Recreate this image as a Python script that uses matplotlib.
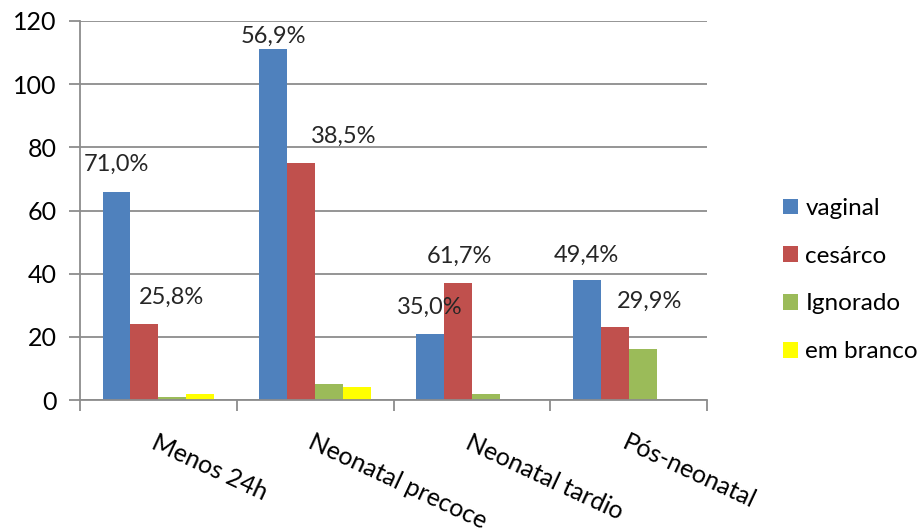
import numpy as np
import matplotlib
matplotlib.use('Agg')
import matplotlib.pyplot as plt
from matplotlib.patches import Patch

plt.rcParams['font.family'] = ['Lato', 'DejaVu Sans']

# deaths by age group and type of delivery
categories = ['Menos 24h', 'Neonatal precoce', 'Neonatal tardio', 'Pós-neonatal']
series = ['vaginal', 'cesárco', 'Ignorado', 'em branco']
vaginal = [66, 111, 21, 38]
cesareo = [24, 75, 37, 23]
ignorado = [1, 5, 2, 16]
em_branco = [2, 4, 0, 0]
colors = ['#4F81BD', '#C0504D', '#9BBB59', '#FFFF00']
yticks = [0, 20, 40, 60, 80, 100, 120]

values = [vaginal, cesareo, ignorado, em_branco]
totals = np.sum(values, axis=0)

# percent labels sit above the vaginal and cesarean bars (pixel offsets)
label_dx = [[0, 27], [0, 42], [0, 2], [0, 35]]
label_dy = [[27, 27], [13, 27], [26, 27], [25, 26]]

fig = plt.figure(figsize=(9.22, 5.32), dpi=100)
ax = fig.add_axes([80/922, 1 - 400/532, 627/922, 379/532])

x = np.arange(len(categories))
w = 0.178
for j, vals in enumerate(values):
    ax.bar(x + (j - 1.5) * w, vals, width=w, color=colors[j], zorder=3)

for i in range(len(categories)):
    for j in range(2):
        v = values[j][i]
        pct = f'{100 * v / totals[i]:.1f}%'.replace('.', ',')
        ax.annotate(pct, (x[i] + (j - 1.5) * w, v),
                    xytext=(label_dx[i][j], label_dy[i][j]),
                    textcoords='offset pixels', ha='center', va='center',
                    fontsize=17, color='#262626', zorder=4)

ax.set_ylim(0, 120)
ax.set_xlim(-0.5, len(categories) - 0.5)
ax.set_yticks(yticks)
ax.yaxis.grid(True, color='#8c8c8c', linewidth=1.3, zorder=0)
ax.tick_params(axis='y', length=8, width=1.3, color='#8c8c8c', pad=9,
               labelsize=18, labelcolor='black')

ax.set_xticks(x)
ax.set_xticklabels(categories, rotation=-25, ha='left', va='top',
                   rotation_mode='anchor', fontsize=18, color='black')
ax.set_xticks(np.arange(-0.5, len(categories)), minor=True)
ax.tick_params(axis='x', which='major', length=0, pad=22)
ax.tick_params(axis='x', which='minor', length=8, width=1.3, color='#8c8c8c')

for s in ['top', 'right']:
    ax.spines[s].set_visible(False)
for s in ['left', 'bottom']:
    ax.spines[s].set_color('#8c8c8c')
    ax.spines[s].set_linewidth(1.3)
ax.spines['bottom'].set_zorder(5)

handles = [Patch(facecolor=c) for c in colors]
fig.legend(handles, series, loc='upper left',
           bbox_to_anchor=(783/922, 1 - 198/532), frameon=False,
           borderpad=0, borderaxespad=0, handlelength=0.62, handleheight=0.62,
           handletextpad=0.3, labelspacing=1.1, fontsize=17.5)

fig.savefig('out.png', dpi=100)
